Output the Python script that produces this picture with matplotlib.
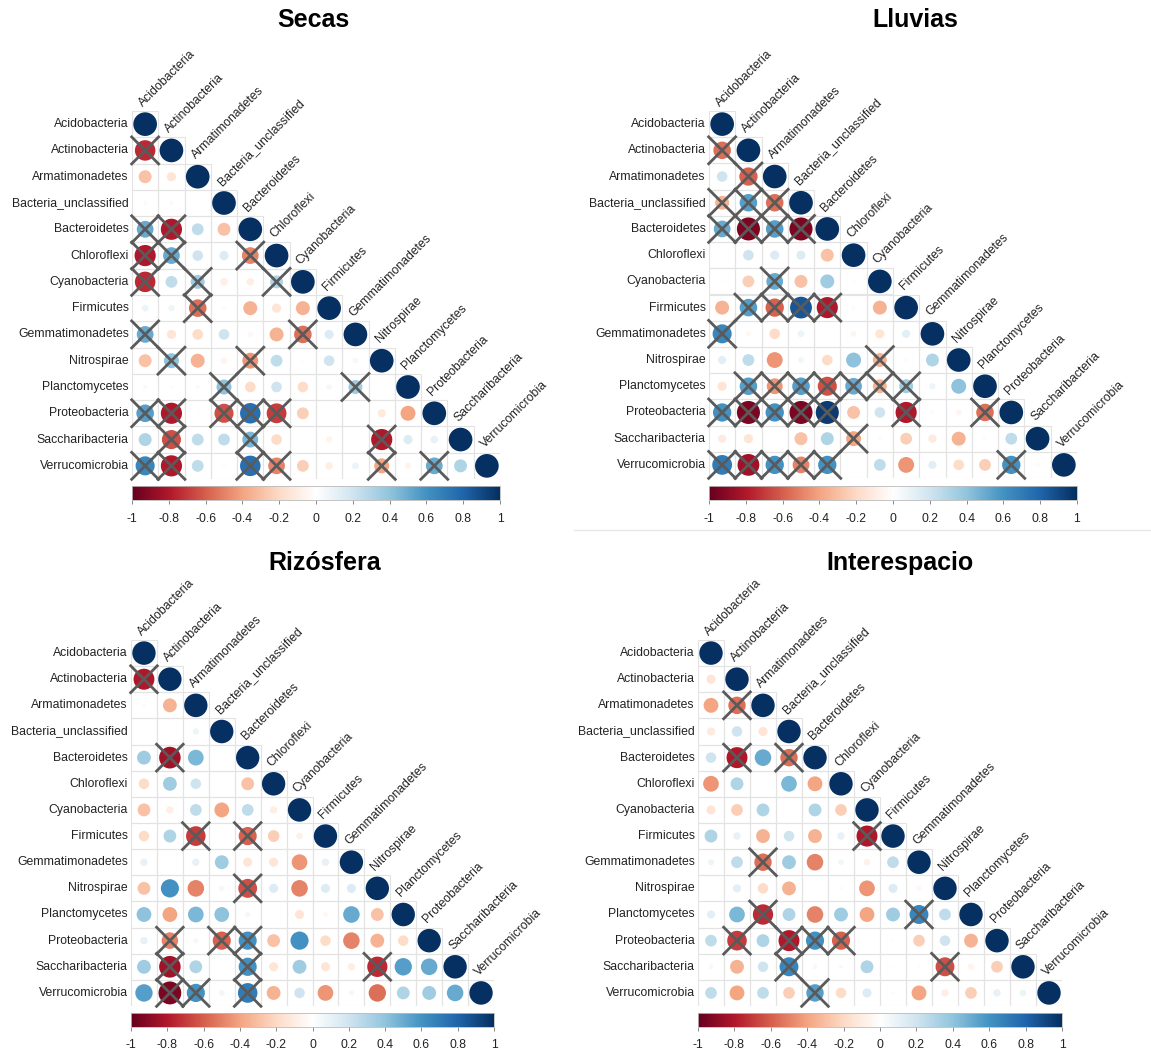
import numpy as np
import matplotlib
matplotlib.use("Agg")
import matplotlib.pyplot as plt
from matplotlib.colors import LinearSegmentedColormap
from matplotlib.patches import Circle, Rectangle

plt.rcParams['font.family'] = ['Liberation Sans', 'DejaVu Sans']

## ---- data --------------------------------------------------------------
TAXA = ["Acidobacteria", "Actinobacteria", "Armatimonadetes", "Bacteria_unclassified",
        "Bacteroidetes", "Chloroflexi", "Cyanobacteria", "Firmicutes",
        "Gemmatimonadetes", "Nitrospirae", "Planctomycetes", "Proteobacteria",
        "Saccharibacteria", "Verrucomicrobia"]

TITLES = ["Secas", "Lluvias", "Rizósfera", "Interespacio"]

# lower triangle, row by row (row i has i values, columns 0..i-1)
secas_r = [
    [-0.75],
    [-0.30, -0.15],
    [-0.03, 0.03, 0.0],
    [0.50, -0.80, 0.25, -0.30],
    [-0.80, 0.50, 0.20, 0.15, -0.50],
    [-0.75, 0.25, 0.35, -0.10, -0.10, 0.30],
    [0.08, 0.07, -0.55, 0.02, -0.35, -0.15, -0.35],
    [0.50, -0.15, -0.20, 0.20, -0.05, -0.35, -0.55, 0.15],
    [-0.30, 0.40, -0.35, -0.07, -0.45, 0.25, -0.02, 0.20, 0.05],
    [0.03, 0.02, 0.03, 0.40, -0.20, 0.20, -0.20, 0.05, 0.35, 0.01],
    [0.55, -0.80, -0.02, -0.65, 0.75, -0.70, -0.25, 0.0, 0.0, -0.12, -0.40],
    [0.30, -0.65, 0.25, 0.25, 0.45, -0.20, 0.0, -0.07, 0.0, -0.80, 0.15, 0.10],
    [0.65, -0.80, 0.25, -0.02, 0.75, -0.50, -0.25, -0.10, 0.08, -0.40, -0.07, 0.50, 0.30],
]
secas_x = [
    [1],
    [0, 0],
    [0, 0, 0],
    [1, 1, 0, 0],
    [1, 1, 0, 0, 1],
    [1, 0, 1, 0, 0, 1],
    [0, 0, 1, 0, 0, 0, 0],
    [1, 0, 0, 0, 0, 0, 1, 0],
    [0, 1, 0, 0, 1, 0, 0, 0, 0],
    [0, 0, 0, 1, 0, 0, 0, 0, 1, 0],
    [1, 1, 0, 1, 1, 1, 0, 0, 0, 0, 0],
    [0, 1, 0, 0, 1, 0, 0, 0, 0, 1, 0, 0],
    [1, 1, 0, 0, 1, 1, 0, 0, 0, 1, 0, 1, 0],
]

lluvias_r = [
    [-0.55],
    [0.20, -0.60],
    [-0.35, 0.55, -0.55],
    [0.50, -0.95, 0.55, -0.95],
    [0.0, 0.20, 0.15, 0.15, -0.30],
    [0.01, -0.25, 0.50, -0.30, 0.35, 0.02],
    [-0.35, 0.55, -0.60, 0.85, -0.80, -0.03, -0.35],
    [0.65, -0.05, -0.20, 0.08, 0.0, -0.06, -0.15, 0.12],
    [0.12, 0.25, -0.45, 0.06, -0.20, 0.40, -0.35, 0.02, 0.30],
    [-0.15, 0.55, -0.45, 0.55, -0.65, 0.50, -0.35, 0.35, 0.07, 0.40],
    [0.60, -0.95, 0.60, -0.95, 0.95, -0.30, 0.20, -0.80, -0.03, -0.06, -0.55],
    [-0.12, -0.15, 0.0, -0.30, 0.30, -0.40, 0.02, -0.25, -0.12, -0.35, -0.03, 0.25],
    [0.70, -0.85, 0.60, -0.50, 0.60, 0.0, 0.25, -0.45, 0.12, -0.20, -0.25, 0.60, -0.03],
]
lluvias_x = [
    [1],
    [0, 1],
    [1, 1, 1],
    [1, 1, 1, 1],
    [0, 0, 0, 0, 0],
    [0, 0, 1, 0, 0, 0],
    [0, 1, 1, 1, 1, 0, 0],
    [1, 0, 0, 0, 0, 0, 0, 0],
    [0, 0, 0, 0, 0, 0, 1, 0, 0],
    [0, 1, 1, 1, 1, 1, 1, 1, 0, 0],
    [1, 1, 1, 1, 1, 0, 0, 1, 0, 0, 1],
    [0, 0, 0, 0, 0, 1, 0, 0, 0, 0, 0, 0],
    [1, 1, 1, 1, 1, 0, 0, 0, 0, 0, 0, 1, 0],
]

rizo_r = [
    [-0.80],
    [0.02, -0.35],
    [0.01, 0.01, 0.07],
    [0.35, -0.85, 0.45, -0.01],
    [-0.20, 0.35, 0.20, 0.01, -0.30],
    [-0.30, -0.10, 0.25, -0.40, 0.25, -0.10],
    [-0.20, 0.30, -0.70, 0.0, -0.60, -0.25, -0.08],
    [0.10, 0.01, 0.10, 0.35, -0.15, -0.15, -0.45, 0.10],
    [-0.30, 0.60, -0.50, 0.05, -0.65, 0.15, -0.50, 0.15, 0.15],
    [0.40, -0.40, 0.45, 0.40, 0.05, 0.0, -0.15, -0.05, 0.50, -0.30],
    [0.10, -0.50, 0.05, -0.60, 0.60, -0.30, 0.60, -0.20, -0.50, -0.35, -0.20],
    [0.35, -0.85, 0.30, 0.0, 0.60, -0.15, 0.35, -0.15, -0.10, -0.75, 0.55, 0.50],
    [0.55, -0.95, 0.60, 0.06, 0.70, -0.35, 0.20, -0.45, 0.05, -0.55, 0.30, 0.35, 0.50],
]
rizo_x = [
    [1],
    [0, 0],
    [0, 0, 0],
    [0, 1, 0, 0],
    [0, 0, 0, 0, 0],
    [0, 0, 0, 0, 0, 0],
    [0, 0, 1, 0, 1, 0, 0],
    [0, 0, 0, 0, 0, 0, 0, 0],
    [0, 0, 0, 0, 1, 0, 0, 0, 0],
    [0, 0, 0, 0, 0, 0, 0, 0, 0, 0],
    [0, 1, 0, 1, 1, 0, 0, 0, 0, 0, 0],
    [0, 1, 0, 0, 1, 0, 0, 0, 0, 1, 0, 0],
    [0, 1, 1, 0, 1, 0, 0, 0, 0, 0, 0, 0, 0],
]

inter_r = [
    [-0.15],
    [-0.40, -0.55],
    [-0.12, 0.20, -0.15],
    [0.20, -0.80, 0.50, -0.55],
    [-0.45, 0.30, 0.0, 0.45, -0.40],
    [-0.15, -0.25, 0.30, 0.01, 0.30, -0.25],
    [0.30, 0.10, -0.35, 0.20, -0.35, 0.10, -0.80],
    [0.07, 0.25, -0.55, 0.35, -0.50, 0.06, -0.08, 0.25],
    [0.0, 0.12, -0.20, -0.35, 0.0, 0.02, -0.45, 0.15, -0.05],
    [0.12, 0.45, -0.75, 0.30, -0.50, 0.35, -0.40, 0.35, 0.65, 0.25],
    [0.25, -0.70, 0.30, -0.80, 0.60, -0.60, 0.0, -0.02, -0.25, 0.20, -0.35],
    [0.04, -0.35, 0.20, 0.65, 0.04, 0.03, 0.30, -0.02, 0.02, -0.65, -0.07, -0.25],
    [0.25, -0.40, 0.25, -0.25, 0.55, -0.20, 0.15, 0.02, -0.40, -0.10, -0.25, 0.10, 0.08],
]
inter_x = [
    [0],
    [0, 1],
    [0, 0, 0],
    [0, 1, 0, 1],
    [0, 0, 0, 0, 0],
    [0, 0, 0, 0, 0, 0],
    [0, 0, 0, 0, 0, 0, 1],
    [0, 0, 1, 0, 0, 0, 0, 0],
    [0, 0, 0, 0, 0, 0, 0, 0, 0],
    [0, 0, 1, 0, 0, 0, 0, 0, 1, 0],
    [0, 1, 0, 1, 1, 1, 0, 0, 0, 0, 0],
    [0, 0, 0, 1, 0, 0, 0, 0, 0, 1, 0, 0],
    [0, 0, 0, 0, 1, 0, 0, 0, 0, 0, 0, 0, 0],
]

## ---- layout (pixels of the 1151 x 1053 canvas) ---------------------------
W, H = 1151, 1053
# grid box: left, top, right, bottom ; colorbar: top, bottom ; title x, y
PANELS = [
    dict(grid=(132, 111, 500, 479), cbar=(486, 500), title=(313, 20)),
    dict(grid=(709, 111, 1077, 478), cbar=(486, 500), title=(915, 20)),
    dict(grid=(131, 640, 494, 1006), cbar=(1013, 1027), title=(325, 563)),
    dict(grid=(698, 640, 1062, 1006), cbar=(1013, 1027), title=(900, 563)),
]
LABEL_SIZE = 8.8

CORR_COLORS = ["#67001F", "#B2182B", "#D6604D", "#F4A582", "#FDDBC7", "#FFFFFF",
               "#D1E5F0", "#92C5DE", "#4393C3", "#2166AC", "#053061"]
cmap = LinearSegmentedColormap.from_list("corrRdBu", CORR_COLORS, N=200)


def to_matrix(lower):
    n = len(TAXA)
    m = np.eye(n)
    for i, row in enumerate(lower, start=1):
        for j, v in enumerate(row):
            m[i, j] = v
    return m


def to_mask(lower):
    n = len(TAXA)
    m = np.zeros((n, n), dtype=bool)
    for i, row in enumerate(lower, start=1):
        for j, v in enumerate(row):
            m[i, j] = bool(v)
    return m


def fig_rect(left, top, right, bottom):
    return [left / W, 1 - bottom / H, (right - left) / W, (bottom - top) / H]


def draw_corrplot(fig, spec, title, r, nonsig):
    n = len(TAXA)
    gl, gt, gr, gb = spec['grid']
    ax = fig.add_axes(fig_rect(gl, gt, gr, gb))
    ax.set_xlim(0, n)
    ax.set_ylim(n, 0)
    ax.axis('off')

    for i in range(n):
        for j in range(i + 1):
            ax.add_patch(Rectangle((j, i), 1, 1, fill=False, ec='#e3e3e3', lw=0.8))
            v = r[i, j]
            rad = 0.45 * np.sqrt(abs(v))
            if rad > 0.005:
                ax.add_patch(Circle((j + 0.5, i + 0.5), rad,
                                    fc=cmap((v + 1) / 2), ec='none'))
            if nonsig[i, j]:
                d = 0.55
                ax.plot([j + 0.5 - d, j + 0.5 + d], [i + 0.5 - d, i + 0.5 + d],
                        color='#5a5a5a', lw=2, solid_capstyle='butt', clip_on=False)
                ax.plot([j + 0.5 - d, j + 0.5 + d], [i + 0.5 + d, i + 0.5 - d],
                        color='#5a5a5a', lw=2, solid_capstyle='butt', clip_on=False)

    for i, name in enumerate(TAXA):
        ax.text(-0.12, i + 0.5, name, ha='right', va='center',
                fontsize=LABEL_SIZE, color='#222222')
        ax.text(i + 0.5, i - 0.08, name, ha='left', va='bottom', rotation=45,
                rotation_mode='anchor', fontsize=LABEL_SIZE, color='#222222')

    # colour legend below the grid
    ct, cb = spec['cbar']
    cax = fig.add_axes(fig_rect(gl, ct, gr, cb))
    grad = np.linspace(-1, 1, 400).reshape(1, -1)
    cax.imshow(grad, cmap=cmap, vmin=-1, vmax=1, aspect='auto', extent=(-1, 1, 0, 1))
    cax.set_yticks([])
    ticks = np.round(np.arange(-1, 1.01, 0.2), 1)
    cax.set_xticks(ticks)
    cax.set_xticklabels(['{:g}'.format(t) if t != 0 else '0' for t in ticks],
                        fontsize=LABEL_SIZE, color='#222222')
    cax.tick_params(axis='x', length=3, width=0.6, color='#777777', pad=6)
    for s in cax.spines.values():
        s.set_color('#bbbbbb')
        s.set_linewidth(0.6)

    tx, ty = spec['title']
    fig.text(tx / W, 1 - ty / H, title, ha='center', va='center',
             fontsize=18, fontweight='bold')


if __name__ == "__main__":
    fig = plt.figure(figsize=(W / 100, H / 100), dpi=100)

    datasets = [(secas_r, secas_x), (lluvias_r, lluvias_x),
                (rizo_r, rizo_x), (inter_r, inter_x)]
    for spec, title, (vals, marks) in zip(PANELS, TITLES, datasets):
        draw_corrplot(fig, spec, title, to_matrix(vals), to_mask(marks))

    # thin separator under the upper right panel
    fig.add_artist(plt.Line2D([574 / W, 1], [1 - 530 / H, 1 - 530 / H],
                              color='#e6e6e6', lw=1))

    fig.savefig('out.png', dpi=100, facecolor='white')
